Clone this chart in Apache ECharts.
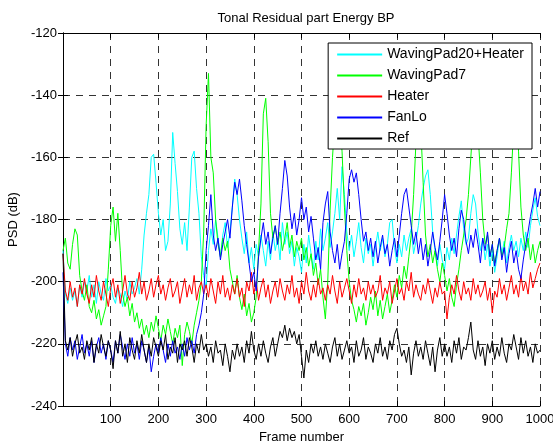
<!DOCTYPE html>
<html>
<head>
<meta charset="utf-8">
<script src="https://cdn.jsdelivr.net/npm/echarts@6/dist/echarts.min.js"></script>
<style>
  html, body { margin: 0; padding: 0; background: #fff; }
  #chart { width: 553px; height: 441px; }
</style>
</head>
<body>
<div id="chart"></div>
<script>
// one sample every 5 frames, frame 0 .. 1000
const FRAME_STEP = 5;
const seriesNames = ["WavingPad20+Heater", "WavingPad7", "Heater", "FanLo", "Ref"];
const seriesColors = ["#00ffff", "#00ff00", "#ff0000", "#0000ff", "#000000"];
const yTicks = [-240, -220, -200, -180, -160, -140, -120];

const wavingPad20Heater = [
  -190, -204, -207, -202, -206, -203, -208, -201, -205, -200,
  -203, -198, -205, -201, -207, -200, -204, -206, -199, -203,
  -201, -205, -207, -202, -204, -208, -203, -206, -200, -204,
  -202, -199, -204, -196, -185, -178, -172, -160, -159, -168,
  -178, -185, -180, -190, -187, -175, -152, -162, -171, -183,
  -188, -181, -190, -176, -160, -158, -170, -178, -192, -198,
  -202, -190, -183, -188, -180, -186, -192, -185, -181, -189,
  -184, -176, -167, -172, -180, -186, -191, -184, -194, -189,
  -196, -188, -192, -185, -190, -195, -187, -193, -184, -190,
  -186, -193, -181, -188, -184, -191, -187, -195, -189, -192,
  -197, -188, -194, -185, -191, -196, -187, -193, -183, -190,
  -186, -181, -189, -184, -178, -170, -180, -163, -172, -184,
  -190, -185, -192, -187, -181, -189, -194, -186, -191, -188,
  -195, -189, -184, -190, -186, -192, -188, -181, -180, -189,
  -194, -188, -192, -185, -190, -186, -183, -191, -187, -182,
  -175, -170, -166, -164, -172, -184, -190, -195, -188, -193,
  -196, -189, -193, -186, -191, -185, -179, -174, -183, -188,
  -186, -178, -172, -175, -184, -190, -186, -193, -188, -195,
  -190, -197, -192, -186, -191, -187, -194, -189, -185, -190,
  -187, -192, -186, -190, -184, -189, -182, -177, -173, -179,
  -182
];

const wavingPad7 = [
  -190, -186, -194, -196, -188, -183, -185, -198, -203, -206,
  -201, -208, -210, -206, -212, -209, -214, -211, -208, -196,
  -182, -176, -187, -178, -190, -204, -208, -205, -211, -207,
  -213, -210, -215, -212, -217, -214, -218, -213, -216, -211,
  -215, -219, -214, -217, -212, -216, -220, -215, -218, -214,
  -227, -217, -213, -216, -220, -214, -210, -206, -200, -184,
  -150, -133, -160, -165, -180, -188, -192, -186, -190, -187,
  -196, -200, -204, -198, -205, -209, -204, -211, -207, -213,
  -210, -205, -190, -175, -146, -141, -155, -178, -186, -182,
  -188, -184, -190, -186, -181, -189, -185, -192, -187, -190,
  -186, -193, -189, -195, -191, -198, -194, -201, -196, -205,
  -212, -200, -177, -160, -148, -144, -150, -158, -176, -190,
  -200, -206, -209, -213, -208, -211, -207, -214, -210, -205,
  -209, -203, -211, -206, -212, -208, -204, -210, -206, -201,
  -205, -198, -202, -195, -199, -192, -185, -172, -155, -145,
  -150, -168, -185, -192, -188, -194, -190, -196, -200, -194,
  -198, -203, -199, -205, -208, -201, -196, -190, -185, -180,
  -172, -160, -148, -145, -152, -165, -180, -188, -185, -192,
  -188, -194, -190, -186, -192, -189, -183, -178, -165, -150,
  -146, -158, -176, -185, -190, -186, -193, -188, -194, -190,
  -187
];

const heater = [
  -191, -203, -206, -200, -205, -202, -208, -201, -204, -199,
  -204, -207, -201, -205, -198, -203, -206, -200, -204, -208,
  -202, -199, -205, -201, -207, -203, -198, -204, -206, -200,
  -205, -202, -197, -204, -200, -206, -203, -199, -205, -201,
  -198, -204, -201, -206, -202, -199, -205, -203, -200, -207,
  -203, -199, -205, -201, -204, -198, -206, -202, -200, -204,
  -201, -205, -199, -203, -207, -200, -204, -198, -205, -202,
  -206, -201, -204, -199, -205, -202, -208, -200, -203, -197,
  -204, -200, -206, -202, -199, -205, -201, -207, -203, -200,
  -205, -199, -203, -206, -201, -204, -198, -205, -202, -207,
  -200, -204, -197, -203, -206, -201, -205, -199, -204, -202,
  -206, -201, -204, -198, -203, -207, -200, -205, -202, -199,
  -203, -207, -201, -205, -199, -204, -202, -206, -200, -204,
  -201, -205, -203, -198, -206, -202, -204, -200, -207, -203,
  -199, -204, -202, -206, -200, -203, -197, -205, -201, -204,
  -206, -201, -204, -199, -203, -207, -202, -205, -200, -204,
  -203, -212, -205, -201, -204, -198, -203, -206, -200, -204,
  -202, -206, -199, -204, -201, -205, -203, -200, -206, -202,
  -210, -203, -205, -199, -204, -201, -206, -202, -198, -204,
  -201, -205, -198, -203, -200, -204, -197, -202, -199, -196,
  -194
];

const fanLo = [
  -197, -220, -224, -218, -222, -219, -225, -221, -217, -223,
  -220, -224, -219, -226, -221, -218, -223, -220, -225, -219,
  -222, -226, -219, -223, -217, -221, -225, -220, -224, -218,
  -223, -220, -225, -219, -222, -226, -221, -229, -224, -220,
  -223, -218, -222, -226, -220, -224, -219, -223, -221, -225,
  -220, -224, -218, -222, -219, -223, -217, -214, -210, -204,
  -190, -182, -172, -185, -190, -186, -193, -188, -184, -180,
  -186, -176, -168, -172, -167, -174, -182, -188, -194, -200,
  -197, -203, -192, -186, -181, -188, -184, -191, -186, -182,
  -188, -178, -170, -161, -166, -176, -183, -178, -185, -180,
  -173, -180, -176, -184, -179, -186, -193, -189, -196, -181,
  -175, -171, -184, -190, -194, -188, -196, -191, -187, -178,
  -167, -164, -168, -165, -172, -180, -187, -184, -190, -186,
  -192, -187, -194, -189, -185, -191, -188, -195, -190, -186,
  -192, -185, -178, -172, -170, -176, -182, -188, -184, -191,
  -186, -193, -188, -195, -190, -184, -189, -193, -187, -180,
  -172, -178, -185, -190, -186, -192, -183, -177, -180, -187,
  -191, -185, -189, -183, -188, -194, -186, -190, -184, -192,
  -188, -195, -190, -186, -193, -189, -197, -191, -187, -194,
  -190, -196, -199, -193, -188, -184, -179, -175, -170, -176,
  -171
];

const ref = [
  -191, -219, -222, -218, -224, -220, -217, -223, -221, -225,
  -219, -222, -218, -226, -220, -223, -217, -221, -224, -219,
  -222, -228, -219, -223, -216, -224, -220, -226, -218, -222,
  -225, -219, -223, -217, -222, -226, -220, -224, -218, -221,
  -224, -219, -222, -217, -225, -221, -223, -218, -226, -220,
  -222, -219, -224, -218, -221, -226, -220, -223, -217, -222,
  -220, -224, -221, -226, -219, -223, -222, -227, -220, -224,
  -229, -222, -225, -220, -224, -221, -226, -219, -223, -216,
  -222, -225, -220, -224, -219, -223, -226, -221, -218, -224,
  -220, -216, -218, -214, -219, -215, -218, -216, -220, -217,
  -224, -231, -222, -226, -220, -223, -219, -224, -221, -225,
  -220, -223, -226, -221, -218, -224, -220, -225, -222, -219,
  -223, -221, -226, -219, -224, -222, -218, -225, -221, -223,
  -226, -220, -223, -218, -224, -221, -225, -219, -222, -217,
  -215, -220, -224, -222, -226, -221, -230, -223, -219, -224,
  -221, -225, -219, -223, -227, -221, -229, -222, -218, -224,
  -220, -224, -221, -226, -219, -223, -218, -225, -221, -222,
  -218, -213, -222, -225, -219, -224, -221, -227, -220, -223,
  -219, -225, -221, -224, -218, -223, -226, -220, -222, -217,
  -221, -225, -218, -223, -219, -224, -221, -226, -220, -223,
  -222
];

const allValues = [wavingPad20Heater, wavingPad7, heater, fanLo, ref];

function toPoints(vals) {
  return vals.map((v, i) => [i * FRAME_STEP, v]);
}

const FONT = "Liberation Sans, Arial, sans-serif";

const chart = echarts.init(document.getElementById("chart"));

const baseX = {
  type: "value",
  min: 0,
  max: 1000,
  interval: 100,
  axisLine: { show: true, lineStyle: { color: "#000", width: 1 } },
  axisTick: { show: true, inside: true, length: 5, lineStyle: { color: "#000" } },
  splitLine: { show: false },
};
const baseY = {
  type: "value",
  min: yTicks[0],
  max: yTicks[yTicks.length - 1],
  interval: 20,
  axisLine: { show: true, lineStyle: { color: "#000", width: 1 } },
  axisTick: { show: true, inside: true, length: 5, lineStyle: { color: "#000" } },
  splitLine: { show: false },
};

chart.setOption({
  animation: false,
  backgroundColor: "#fff",
  textStyle: { fontFamily: FONT },
  title: {
    text: "Tonal Residual part Energy BP",
    left: 301,
    top: 7,
    textAlign: "center",
    textStyle: { fontFamily: FONT, fontSize: 13, fontWeight: "normal", color: "#000" },
  },
  legend: {
    // explicit colours per entry so the sample lines keep the series colour
    data: seriesNames.map((name, k) => ({
      name: name,
      itemStyle: { color: seriesColors[k], opacity: 0 },
      lineStyle: { color: seriesColors[k], width: 2, opacity: 1 },
    })),
    orient: "vertical",
    right: 21,
    top: 43,
    padding: [4, 8, 3, 8],
    itemGap: 6,
    itemWidth: 45,
    itemHeight: 14,
    backgroundColor: "#fff",
    borderColor: "#000",
    borderWidth: 1,
    borderRadius: 0,
    textStyle: { fontFamily: FONT, fontSize: 14, color: "#000", lineHeight: 15 },
  },
  grid: { left: 63, right: 13, top: 33, bottom: 35, outerBoundsMode: "none" },
  xAxis: [
    Object.assign({}, baseX, {
      position: "bottom",
      name: "Frame number",
      nameLocation: "middle",
      nameGap: 22,
      nameTextStyle: { fontFamily: FONT, fontSize: 13, color: "#000" },
      axisLabel: {
        fontFamily: FONT, fontSize: 13, color: "#000", margin: 7,
        formatter: (v) => (v === 0 ? "" : v),
      },
      splitLine: { show: true, lineStyle: { color: "#333", type: [7, 6], width: 1 } },
    }),
    Object.assign({}, baseX, { position: "top", axisLabel: { show: false } }),
  ],
  yAxis: [
    Object.assign({}, baseY, {
      position: "left",
      name: "PSD (dB)",
      nameLocation: "middle",
      nameGap: 33,
      nameTextStyle: { fontFamily: FONT, fontSize: 13, color: "#000" },
      axisLabel: { fontFamily: FONT, fontSize: 13, color: "#000", margin: 6 },
      splitLine: { show: true, lineStyle: { color: "#333", type: [7, 6], width: 1 } },
    }),
    Object.assign({}, baseY, { position: "right", axisLabel: { show: false } }),
  ],
  series: seriesNames.map((name, k) => ({
    name: name,
    type: "line",
    xAxisIndex: 0,
    yAxisIndex: 0,
    data: toPoints(allValues[k]),
    symbol: "none",
    showSymbol: false,
    lineStyle: { color: seriesColors[k], width: 1 },
    itemStyle: { color: seriesColors[k] },
    clip: true,
  })),
});
</script>
</body>
</html>
